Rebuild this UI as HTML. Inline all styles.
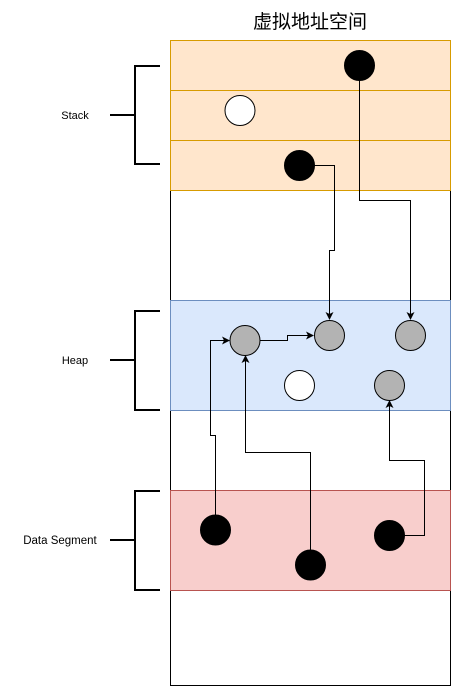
<!DOCTYPE html>
<html><head><meta charset="utf-8"><style>body{margin:0;background:#fff}</style></head><body>
<svg width="451" height="686" xmlns="http://www.w3.org/2000/svg" font-family="Liberation Sans, Noto Sans CJK SC, sans-serif">
<defs><marker id="a" markerWidth="8" markerHeight="8" refX="7" refY="4" orient="auto" markerUnits="userSpaceOnUse"><path d="M0,0 L8,4 L0,8 L2,4z" fill="#000"/></marker></defs>
<text x="310" y="28" font-size="19" text-anchor="middle">虚拟地址空间</text>
<rect x="170.5" y="40.5" width="280" height="645" fill="#fff" stroke="#000"/>
<rect x="170.5" y="40.5" width="280" height="50" fill="#ffe6cc" stroke="#d79b00"/>
<rect x="170.5" y="90.5" width="280" height="50" fill="#ffe6cc" stroke="#d79b00"/>
<rect x="170.5" y="140.5" width="280" height="50" fill="#ffe6cc" stroke="#d79b00"/>
<rect x="170.5" y="300.5" width="280" height="110" fill="#dae8fc" stroke="#6c8ebf"/>
<rect x="170.5" y="490.5" width="280" height="100" fill="#f8cecc" stroke="#b85450"/>
<g fill="none" stroke="#000" stroke-width="2">
<path d="M160,66H135V164H160M110,115H135"/>
<path d="M160,311H135V410H160M110,360H135"/>
<path d="M160,491H135V590H160M110,540H135"/>
</g>
<g font-size="11" text-anchor="middle"><text x="75" y="119">Stack</text><text x="75" y="364">Heap</text><text x="60" y="544" font-size="11.5">Data Segment</text></g>
<g fill="none" stroke="#000" stroke-width="1">
<path d="M359.5,80V200.5H410.5V319" marker-end="url(#a)"/>
<path d="M314,165.5H334.5V250.5H329.5V319" marker-end="url(#a)"/>
<path d="M260,340.5H287.5V335.5H313" marker-end="url(#a)"/>
<path d="M215.5,515V435.5H210.5V340.5H229" marker-end="url(#a)"/>
<path d="M310.5,550V452.5H245.5V356" marker-end="url(#a)"/>
<path d="M404,535.5H424.5V460.5H389.5V401" marker-end="url(#a)"/>
</g>
<g stroke="#000">
<circle cx="359.5" cy="65.5" r="15"/>
<circle cx="240" cy="110.5" r="15" fill="#fff"/>
<circle cx="299.5" cy="165.5" r="15"/>
<circle cx="245" cy="340.5" r="15" fill="#b3b3b3"/>
<circle cx="329.5" cy="335.5" r="15" fill="#b3b3b3"/>
<circle cx="410.5" cy="335.5" r="15" fill="#b3b3b3"/>
<circle cx="299.5" cy="385.5" r="15" fill="#fff"/>
<circle cx="389.5" cy="385.5" r="15" fill="#b3b3b3"/>
<circle cx="215.5" cy="530" r="15"/>
<circle cx="310.5" cy="565" r="15"/>
<circle cx="389.5" cy="535.5" r="15"/>
</g>
</svg>
</body></html>
